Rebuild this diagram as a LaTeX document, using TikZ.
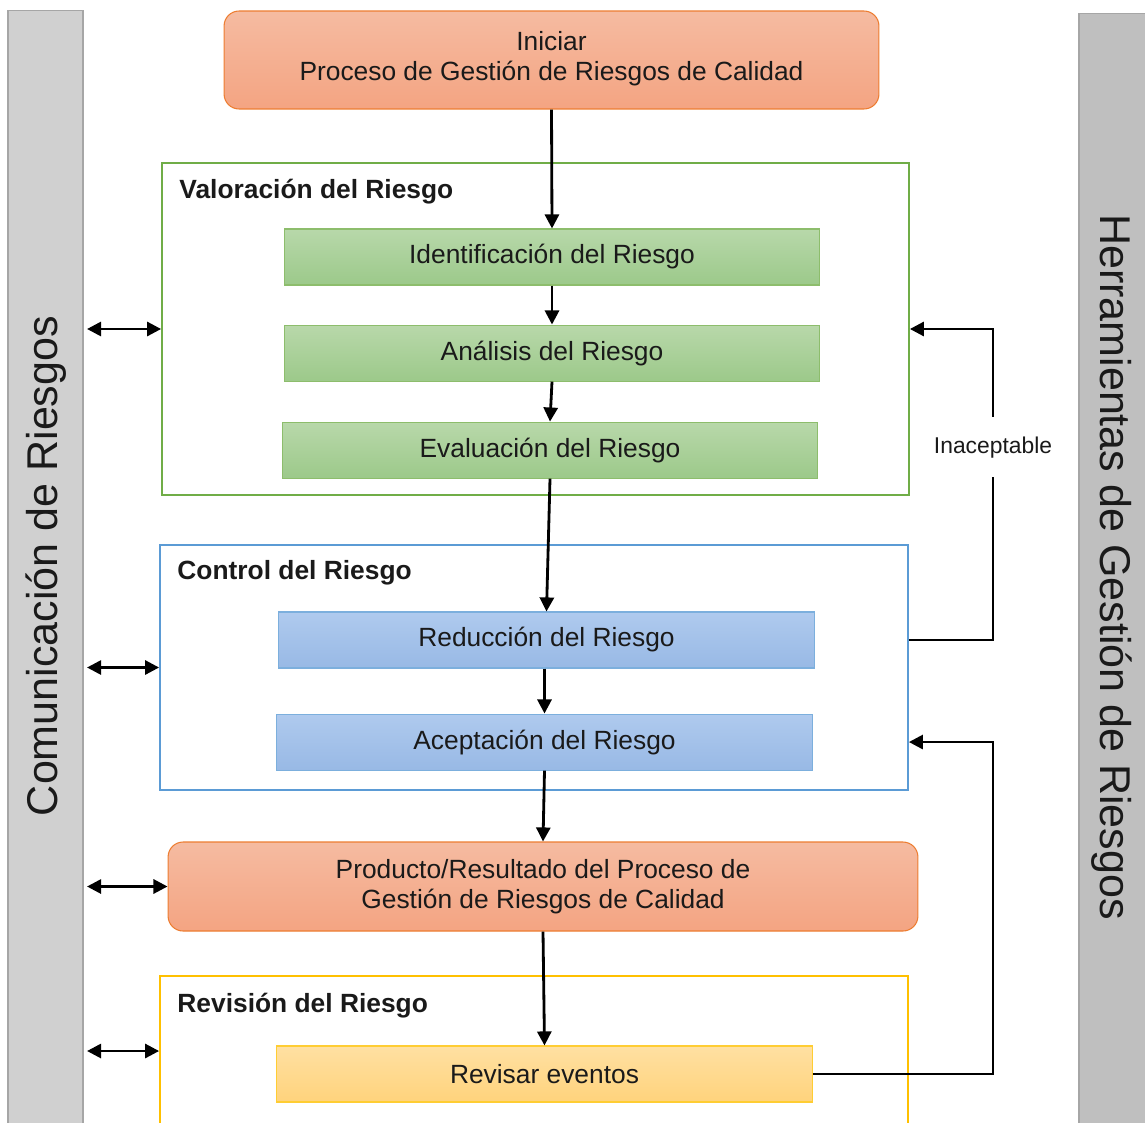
\documentclass[tikz,border=0pt]{standalone}
\usepackage{fontspec}
\setmainfont{Liberation Sans}
\usetikzlibrary{arrows.meta, positioning}

\definecolor{textgray}{HTML}{1A1A1A}
\definecolor{orangetop}{HTML}{F5BBA1}
\definecolor{orangebottom}{HTML}{F4A482}
\definecolor{orangeline}{HTML}{ED7D31}
\definecolor{greentop}{HTML}{B8D8AA}
\definecolor{greenbottom}{HTML}{9CC98A}
\definecolor{greenline}{HTML}{70AD47}
\definecolor{bluetop}{HTML}{AFCAEE}
\definecolor{bluebottom}{HTML}{98B9E5}
\definecolor{blueline}{HTML}{5B9BD5}
\definecolor{yellowtop}{HTML}{FFE0A2}
\definecolor{yellowbottom}{HTML}{FFD37C}
\definecolor{yellowline}{HTML}{FFC000}
\definecolor{barfill}{HTML}{D0D0D0}
\definecolor{barline}{HTML}{A6A6A6}

\begin{document}
\begin{tikzpicture}[x=0.02cm, y=-0.02cm,
        box/.style={draw, minimum width=10.72cm, minimum height=1.12cm, inner sep=0, line width=0.6pt,
            font=\fontsize{15}{17}\selectfont, text=textgray},
        greenbox/.style={box, draw=greenline!80, top color=greentop, bottom color=greenbottom},
        bluebox/.style={box, draw=blueline!80, top color=bluetop, bottom color=bluebottom},
        yellowbox/.style={box, draw=yellowline!80, top color=yellowtop, bottom color=yellowbottom},
        startbox/.style={draw=orangeline, top color=orangetop, bottom color=orangebottom, rounded corners=0.3cm,
            align=center, inner sep=0, line width=0.6pt, font=\fontsize{15}{17}\selectfont, text=textgray},
        group/.style={draw, line width=1.1pt, inner sep=0},
        grouptitle/.style={anchor=west, inner sep=0, font=\bfseries\fontsize{15}{17}\selectfont, text=textgray},
        bar/.style={draw=barline, fill=barfill, inner sep=0, line width=0.6pt},
        barlabel/.style={inner sep=0, font=\fontsize{24.5}{28}\selectfont, text=textgray},
        arrow/.style={-{Triangle[length=8pt, width=8pt]}, line width=1.6pt},
        twoway/.style={{Triangle[length=8pt, width=8pt]}-{Triangle[length=8pt, width=8pt]}, line width=1.6pt, shorten <=2pt}
    ]
    \useasboundingbox (0,0) rectangle (1145,1122);

    % side bars
    \node[bar, minimum width=1.5cm, minimum height=22.52cm] (commbar) at (45.5,573) {};
    \node[bar, fill=barfill!92!black, minimum width=1.42cm, minimum height=22.46cm] (toolbar) at (1114.5,574.5) {};
    \node[barlabel, rotate=90] (commtext) at (46,566) {Comunicación de Riesgos};
    \node[barlabel, rotate=-90] (tooltext) at (1112,567) {Herramientas de Gestión de Riesgos};

    % groups
    \node[group, draw=greenline, minimum width=14.94cm, minimum height=6.64cm] (valor) at (535.5,329) {};
    \node[group, draw=blueline, minimum width=14.96cm, minimum height=4.9cm] (control) at (534,667.5) {};
    \node[group, draw=yellowline, minimum width=14.96cm, minimum height=3cm] (revision) at (534,1051) {};
    \node[grouptitle] (valortitle) at ([shift={(18,30)}]valor.north west) {Valoración del Riesgo};
    \node[grouptitle] (controltitle) at ([shift={(18,29)}]control.north west) {Control del Riesgo};
    \node[grouptitle] (revisiontitle) at ([shift={(18,31)}]revision.north west) {Revisión del Riesgo};

    % steps
    \node[startbox, minimum width=13.1cm, minimum height=1.96cm, text depth=0.15cm] (start) at (551.5,60)
        {Iniciar\\Proceso de Gestión de Riesgos de Calidad};
    \node[greenbox] (ident) at (552,257) {Identificación del Riesgo};
    \node[greenbox, below=0.78cm of ident] (anal) {Análisis del Riesgo};
    \node[greenbox, below=0.8cm of anal, xshift=-0.04cm] (eval) {Evaluación del Riesgo};
    \node[bluebox] (reduc) at (546.5,640) {Reducción del Riesgo};
    \node[bluebox, below=0.9cm of reduc, xshift=-0.04cm] (acept) {Aceptación del Riesgo};
    \node[startbox, minimum width=15cm, minimum height=1.78cm] (prod) at (543,886.5)
        {Producto/Resultado del Proceso de\\Gestión de Riesgos de Calidad};
    \node[yellowbox] (revis) at (544.5,1074) {Revisar eventos};

    % flow
    \draw[arrow] (start.south) -- (ident.north);
    \draw[arrow] (ident.south) -- (anal.north);
    \draw[arrow] (anal.south) -- (eval.north);
    \draw[arrow] (eval.south) -- (reduc.north);
    \draw[arrow] (acept.north |- reduc.south) -- (acept.north);
    \draw[arrow] (acept.south) -- (prod.north);
    \draw[arrow] (prod.south) -- (revis.north);

    % feedback
    \coordinate (rail) at (993,0);
    \draw[arrow] (control.east |- reduc) -- (rail |- reduc)
        -- node[pos=0.62, fill=white, inner xsep=1pt, inner ysep=11pt, font=\fontsize{13}{15}\selectfont, text=textgray] (inacept) {Inaceptable}
        (rail |- valor.east) -- (valor.east);
    \draw[arrow] (revis.east) -- (rail |- revis) -- (rail |- acept) -- (control.east |- acept);

    % communication
    \foreach \g in {valor, control, prod, revision}
        \draw[twoway] (commbar.east |- \g.west) -- (\g.west);
\end{tikzpicture}
\end{document}
